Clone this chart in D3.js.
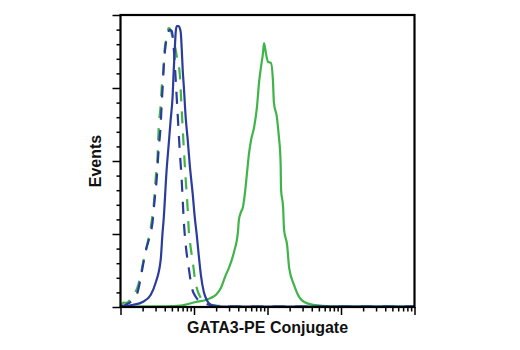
<!DOCTYPE html>
<html>
<head>
<meta charset="utf-8">
<script src="https://cdn.jsdelivr.net/npm/d3@7"></script>
<style>
  html, body { margin: 0; padding: 0; background: #fff; }
  svg { display: block; }
  .lbl { font-family: "Liberation Sans", Arial, sans-serif; font-weight: bold; font-size: 16px; fill: #111; }
</style>
</head>
<body>
<svg id="chart" width="520" height="350"></svg>
<script>
// ---- data (fluorescence intensity, log scale; events as % of max) ----
const xLabel = "GATA3-PE Conjugate";
const yLabel = "Events";
const xDomain = [1, 10000];
const yDomain = [0, 100];
const yMajorTicks = [0, 25, 50, 75, 100];

const blueSolidX = [1.00, 1.17, 1.46, 2.00, 2.57, 3.00, 3.52, 3.74, 3.86, 4.24, 4.52, 4.81, 5.13, 5.30, 5.47, 5.64, 5.82, 6.19, 6.59, 6.80, 7.02, 7.25, 7.72, 8.22, 8.76, 9.63, 10.26, 10.9, 11.6, 12.4, 13.6, 14.9, 16.9, 19.8, 31.9, 10000];
const blueSolidY = [0.1, 0.2, 0.7, 1.7, 4.1, 8.2, 16.1, 25.7, 29.8, 46.9, 55.5, 64.0, 72.6, 81.2, 88.0, 94.2, 96.2, 96.2, 94.2, 88.7, 81.2, 76.0, 64.7, 57.2, 48.6, 38.4, 30.5, 24.7, 17.8, 11.0, 5.1, 2.4, 0.7, 0.2, 0.1, 0.1];

const blueDashX = [1.00, 1.17, 1.46, 1.71, 1.88, 2.06, 2.26, 2.49, 2.73, 2.91, 3.10, 3.30, 3.52, 3.63, 3.74, 3.86, 4.11, 4.38, 4.66, 4.97, 5.30, 5.64, 6.00, 6.39, 6.80, 7.02, 7.25, 7.72, 8.48, 9.31, 10.6, 12.4, 15.4, 23.2, 43.5, 10000];
const blueDashY = [0.1, 0.7, 2.4, 5.1, 9.9, 15.4, 20.2, 24.0, 29.1, 36.6, 43.5, 53.8, 62.3, 69.2, 75.0, 81.8, 89.7, 93.2, 94.9, 94.5, 88.7, 77.7, 65.8, 53.8, 43.5, 36.6, 29.8, 21.2, 13.4, 6.8, 3.4, 1.7, 0.9, 0.2, 0.1, 0.1];

const greenDashX = [1.00, 1.05, 1.10, 1.21, 1.37, 1.60, 1.76, 1.94, 2.13, 2.33, 2.57, 2.73, 2.91, 3.00, 3.20, 3.30, 3.52, 3.63, 3.86, 3.98, 4.24, 4.52, 4.81, 5.13, 5.64, 6.00, 6.39, 6.80, 7.25, 7.72, 8.22, 8.48, 9.04, 9.63, 10.26, 10.9, 12.4, 14.5, 19.8, 31.9, 81.6, 10000];
const greenDashY = [0.3, 1.0, 1.5, 1.4, 2.7, 5.1, 7.9, 12.7, 17.8, 21.9, 27.1, 31.5, 38.4, 43.5, 52.1, 60.6, 69.2, 75.0, 81.8, 88.0, 92.1, 95.5, 94.9, 92.1, 88.0, 83.9, 80.1, 67.5, 54.8, 43.5, 33.2, 26.4, 20.2, 15.4, 9.9, 6.5, 3.1, 1.4, 0.5, 0.2, 0.1, 0.1];

const greenSolidX = [1, 4.11, 6.59, 10.6, 14.5, 16.9, 19.8, 23.2, 27.1, 29.9, 35.0, 39.6, 40.8, 43.5, 46.3, 49.3, 52.6, 56.1, 59.8, 65.8, 71.9, 76.6, 81.6, 86.9, 89.7, 95.6, 101.9, 111.2, 118.5, 122.3, 134, 143, 148, 151, 153, 163, 168, 185, 197, 230, 270, 316, 418, 737, 10000];
const greenSolidY = [0.1, 0.2, 0.5, 1.7, 2.4, 3.1, 4.1, 6.5, 11.0, 13.4, 18.8, 25.7, 29.8, 32.5, 34.2, 39.0, 45.9, 52.7, 57.2, 61.6, 68.5, 76.7, 82.2, 87.0, 90.4, 86.6, 83.9, 83.6, 77.7, 69.9, 65.1, 58.2, 53.8, 48.6, 40.1, 34.2, 26.4, 21.2, 13.4, 7.5, 3.4, 1.7, 0.7, 0.2, 0.1];

const seriesList = [
  { name: "green solid", xs: greenSolidX, ys: greenSolidY, color: "#3fb449", dash: null },
  { name: "green dashed", xs: greenDashX, ys: greenDashY, color: "#3fb449", dash: "12,10" },
  { name: "blue dashed", xs: blueDashX, ys: blueDashY, color: "#2c3c9d", dash: "12,10" },
  { name: "blue solid", xs: blueSolidX, ys: blueSolidY, color: "#2c3c9d", dash: null }
];

// ---- layout ----
const L = 120.5, R = 414.5, T = 15, B = 307;
const svg = d3.select("#chart");
const x = d3.scaleLog().domain(xDomain).range([L, R]);
const y = d3.scaleLinear().domain(yDomain).range([B, T]);

// curves
const line = d3.line().x(d => x(d[0])).y(d => y(d[1])).curve(d3.curveMonotoneX);
const g = svg.append("g");
seriesList.forEach(s => {
  const pts = s.xs.map((v, i) => [v, s.ys[i]]);
  g.append("path")
    .attr("d", line(pts))
    .attr("fill", "none")
    .attr("stroke", s.color)
    .attr("stroke-width", 2.2)
    .attr("stroke-linejoin", "round")
    .attr("stroke-dasharray", s.dash);
});

// Y axis: major + minor ticks
const yMinor = d3.range(yDomain[0], yDomain[1] + 0.001, 5).filter(v => !yMajorTicks.includes(v));
const yAxisMajor = d3.axisLeft(y).tickValues(yMajorTicks).tickSize(8).tickFormat("");
const yAxisMinor = d3.axisLeft(y).tickValues(yMinor).tickSize(4).tickFormat("");
const ya = svg.append("g").attr("transform", `translate(${L},0)`).call(yAxisMajor);
const ym = svg.append("g").attr("transform", `translate(${L},0)`).call(yAxisMinor);
[ya, ym].forEach(a => { a.select(".domain").remove(); a.selectAll("line").attr("stroke", "#000").attr("stroke-width", 1.5); });

// X axis: decade + minor ticks
const xMajor = [];
const xMinor = [];
for (let e = 0; e <= 4; e++) {
  xMajor.push(Math.pow(10, e));
  if (e < 4) for (let k = 2; k <= 9; k++) xMinor.push(k * Math.pow(10, e));
}
const xAxisMajor = d3.axisBottom(x).tickValues(xMajor).tickSize(8).tickFormat("");
const xAxisMinor = d3.axisBottom(x).tickValues(xMinor).tickSize(4.5).tickFormat("");
const xa = svg.append("g").attr("transform", `translate(0,${B})`).call(xAxisMajor);
const xm = svg.append("g").attr("transform", `translate(0,${B})`).call(xAxisMinor);
[xa, xm].forEach(a => { a.select(".domain").remove(); a.selectAll("line").attr("stroke", "#000").attr("stroke-width", 1.5); });

// frame
svg.append("rect")
  .attr("x", L).attr("y", T)
  .attr("width", R - L).attr("height", B - T)
  .attr("fill", "none").attr("stroke", "#000").attr("stroke-width", 2.2);

// labels
svg.append("text").attr("class", "lbl")
  .attr("x", (L + R) / 2).attr("y", 333)
  .attr("text-anchor", "middle").text(xLabel);
svg.append("text").attr("class", "lbl")
  .attr("transform", `translate(101,${(T + B) / 2}) rotate(-90)`)
  .attr("text-anchor", "middle").text(yLabel);
</script>
</body>
</html>
